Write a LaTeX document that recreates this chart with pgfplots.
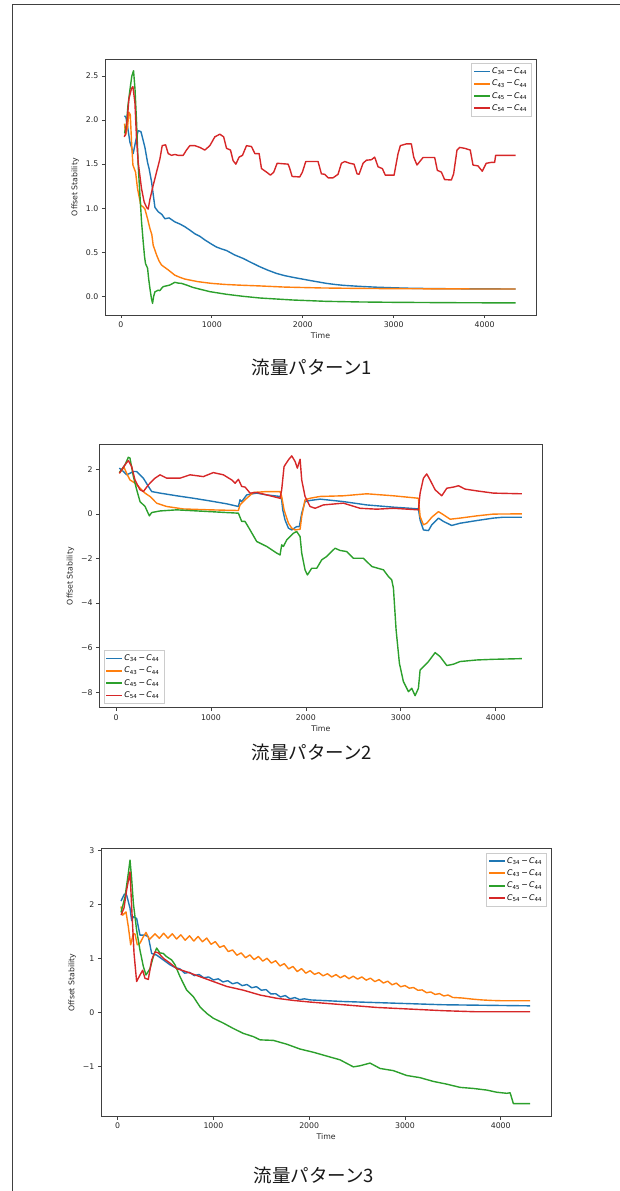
\documentclass[border=0pt]{standalone}
\usepackage{fontspec}
\setmainfont{DejaVu Sans}
\newfontfamily\cjk{Noto Sans CJK JP}
\usepackage{pgfplots}
\pgfplotsset{compat=1.18}
\definecolor{c1}{HTML}{1F77B4}
\definecolor{c2}{HTML}{FF7F0E}
\definecolor{c3}{HTML}{2CA02C}
\definecolor{c4}{HTML}{D62728}
\newcommand{\lab}[1]{\textit{C}\textsubscript{#1}\,−\,\textit{C}\textsubscript{44}}
\pgfplotsset{myax/.style={scale only axis,
  axis line style={black!75, line width=0.7pt},
  tick align=outside, xtick pos=left, ytick pos=left,
  major tick length=3.2pt, tick style={black!75, line width=0.7pt},
  ticklabel style={font=\fontsize{7.8}{9}\selectfont, text=black!85},
  label style={font=\fontsize{7.8}{9}\selectfont, text=black!85},
  xlabel=Time, ylabel=Offset Stability,
  xlabel style={yshift=2pt},
  legend style={font=\fontsize{7.8}{9}\selectfont, draw=black!20, row sep=1pt, inner sep=2.5pt},
  legend cell align=left,
  legend image code/.code={\fill[#1, draw=none] (0pt,-0.9pt) rectangle (16pt,0.9pt);},
  every axis plot/.append style={line width=1.4pt, line join=round},
  xtick={0,1000,2000,3000,4000}, xticklabels={0,1000,2000,3000,4000},
}}
\begin{document}
\begin{tikzpicture}
\path[use as bounding box] (0,0) rectangle (619pt,-1191pt);
\draw[black!75, line width=0.9pt] (12.8pt,-1192pt) -- (12.8pt,-4.5pt) -- (620pt,-4.5pt);

% ---------- Plot 1 ----------
\begin{axis}[myax, at={(105pt,-315pt)}, anchor=south west, width=431pt, height=255.7pt,
  xmin=-175, xmax=4565, ymin=-0.212, ymax=2.69,
  ytick={0,0.5,1,1.5,2,2.5}, yticklabels={0.0,0.5,1.0,1.5,2.0,2.5},
  legend style={at={(0.99,0.985)}, anchor=north east}]
\addplot[c1] coordinates {(40,2.05)(55,2.03)(70,1.95)(99,1.75)(120,1.68)(135,1.62)(160,1.75)(190,1.88)(220,1.87)(264,1.69)(293,1.52)(310,1.45)(337,1.30)(374,1.01)(410,0.96)(450,0.93)(484,0.88)(530,0.89)(593,0.845)(650,0.82)(703,0.79)(760,0.75)(813,0.71)(870,0.68)(923,0.64)(1000,0.59)(1050,0.56)(1100,0.54)(1161,0.52)(1250,0.47)(1344,0.43)(1430,0.385)(1527,0.336)(1620,0.295)(1711,0.26)(1800,0.235)(1894,0.215)(2000,0.195)(2077,0.18)(2160,0.165)(2260,0.147)(2350,0.135)(2443,0.125)(2626,0.113)(2800,0.104)(2993,0.097)(3200,0.091)(3500,0.087)(3800,0.085)(4100,0.084)(4341,0.083)};
\addlegendentry{\lab{34}}
\addplot[c2] coordinates {(40,1.96)(51,1.83)(73,1.92)(88,2.09)(103,2.06)(117,1.75)(132,1.49)(161,1.41)(183,1.22)(220,1.03)(240,1.02)(264,0.99)(293,0.88)(319,0.77)(340,0.70)(355,0.58)(392,0.47)(420,0.40)(447,0.355)(520,0.30)(593,0.24)(650,0.215)(703,0.196)(780,0.18)(850,0.166)(996,0.147)(1143,0.135)(1300,0.127)(1527,0.118)(1800,0.105)(2200,0.095)(2600,0.09)(3000,0.087)(3600,0.084)(4341,0.083)};
\addlegendentry{\lab{43}}
\addplot[c3] coordinates {(40,1.85)(60,1.95)(77,2.16)(100,2.35)(120,2.50)(139,2.56)(155,2.35)(172,1.98)(190,1.49)(209,1.15)(227,0.845)(245,0.62)(260,0.45)(271,0.37)(293,0.32)(305,0.2)(319,0.09)(335,-0.02)(348,-0.08)(360,0.0)(374,0.05)(410,0.07)(428,0.064)(447,0.09)(465,0.11)(538,0.128)(593,0.159)(630,0.15)(667,0.147)(730,0.125)(795,0.10)(880,0.078)(978,0.053)(1161,0.023)(1344,0.0)(1527,-0.019)(1894,-0.042)(2260,-0.057)(2626,-0.064)(2993,-0.068)(3600,-0.072)(4341,-0.075)};
\addlegendentry{\lab{45}}
\addplot[c4] coordinates {(36,1.81)(51,1.84)(73,2.05)(88,2.24)(117,2.36)(132,2.38)(154,2.20)(172,1.79)(190,1.52)(227,1.22)(256,1.07)(282,1.01)(300,0.99)(319,1.10)(355,1.26)(392,1.41)(429,1.56)(454,1.71)(491,1.72)(520,1.62)(557,1.60)(593,1.61)(630,1.60)(685,1.60)(721,1.66)(758,1.71)(813,1.71)(868,1.69)(923,1.66)(978,1.71)(1033,1.81)(1088,1.84)(1130,1.81)(1161,1.68)(1205,1.66)(1234,1.54)(1264,1.50)(1300,1.58)(1337,1.60)(1381,1.71)(1436,1.70)(1473,1.62)(1520,1.62)(1546,1.45)(1601,1.41)(1645,1.375)(1681,1.41)(1718,1.51)(1839,1.50)(1857,1.45)(1883,1.36)(1967,1.355)(1996,1.41)(2033,1.53)(2168,1.53)(2205,1.39)(2242,1.385)(2278,1.345)(2333,1.345)(2388,1.385)(2425,1.51)(2462,1.53)(2516,1.51)(2564,1.50)(2597,1.39)(2619,1.385)(2663,1.51)(2700,1.545)(2755,1.55)(2791,1.58)(2828,1.47)(2875,1.45)(2908,1.375)(3004,1.375)(3048,1.62)(3073,1.71)(3139,1.73)(3194,1.73)(3220,1.58)(3256,1.49)(3322,1.575)(3451,1.575)(3480,1.43)(3524,1.41)(3560,1.325)(3634,1.32)(3659,1.39)(3696,1.66)(3725,1.69)(3780,1.68)(3842,1.66)(3872,1.49)(3927,1.48)(3974,1.42)(4018,1.51)(4073,1.52)(4110,1.52)(4121,1.60)(4341,1.60)};
\addlegendentry{\lab{54}}
\end{axis}
\node[font=\cjk\fontsize{18.5}{21}\selectfont, text=black!90] at (311.7pt,-367.5pt) {流量パターン1};

% ---------- Plot 2 ----------
\begin{axis}[myax, at={(99.3pt,-707.7pt)}, anchor=south west, width=443pt, height=263pt,
  xmin=-176, xmax=4490, ymin=-8.69, ymax=3.10,
  ytick={-8,-6,-4,-2,0,2}, yticklabels={−8,−6,−4,−2,0,2},
  legend style={at={(0.01,0.015)}, anchor=south west}]
\addplot[c1] coordinates {(35,2.05)(77,1.9)(112,1.75)(147,1.82)(183,1.9)(218,1.9)(253,1.75)(288,1.6)(341,1.23)(376,1.0)(464,0.93)(639,0.81)(815,0.70)(990,0.58)(1166,0.45)(1289,0.33)(1306,0.63)(1324,0.55)(1377,0.85)(1412,0.88)(1482,0.93)(1587,0.85)(1728,0.78)(1745,0.63)(1756,0.18)(1780,-0.27)(1816,-0.64)(1851,-0.72)(1903,-0.57)(1931,-0.57)(1956,0.03)(1991,0.55)(2044,0.6)(2149,0.66)(2395,0.55)(2641,0.40)(2922,0.30)(3097,0.25)(3185,0.22)(3203,-0.27)(3238,-0.72)(3291,-0.75)(3326,-0.49)(3396,-0.19)(3449,-0.34)(3536,-0.52)(3624,-0.42)(3800,-0.30)(3975,-0.19)(4081,-0.15)(4274,-0.15)};
\addlegendentry{\lab{34}}
\addplot[c2] coordinates {(35,1.82)(84,2.09)(112,1.82)(147,1.52)(200,1.38)(253,1.15)(306,0.93)(358,0.78)(428,0.48)(534,0.33)(709,0.22)(990,0.18)(1289,0.15)(1306,0.40)(1377,0.70)(1447,0.96)(1587,1.0)(1728,1.0)(1745,0.78)(1770,0.18)(1816,-0.42)(1851,-0.64)(1886,-0.72)(1939,-0.69)(1956,-0.12)(1991,0.63)(2044,0.70)(2149,0.78)(2395,0.81)(2641,0.90)(2922,0.81)(3185,0.70)(3203,-0.12)(3238,-0.49)(3273,-0.42)(3326,-0.15)(3396,0.10)(3449,-0.04)(3519,-0.24)(3624,-0.19)(3800,-0.09)(3975,-0.01)(4274,0.0)};
\addlegendentry{\lab{43}}
\addplot[c3] coordinates {(35,1.85)(95,2.2)(130,2.54)(147,2.5)(183,1.67)(218,1.08)(253,0.55)(306,0.33)(351,-0.09)(376,0.06)(464,0.13)(639,0.18)(990,0.1)(1289,0.03)(1324,-0.34)(1359,-0.34)(1412,-0.72)(1482,-1.24)(1587,-1.46)(1693,-1.76)(1728,-1.84)(1745,-1.39)(1763,-1.46)(1798,-1.17)(1868,-0.87)(1903,-0.79)(1939,-1.02)(1956,-1.76)(1991,-2.51)(2016,-2.74)(2061,-2.44)(2114,-2.44)(2167,-2.06)(2219,-1.91)(2307,-1.54)(2360,-1.64)(2430,-1.69)(2500,-1.99)(2606,-1.99)(2694,-2.36)(2817,-2.51)(2869,-2.81)(2904,-2.96)(2922,-3.33)(2950,-5.2)(2985,-6.70)(3027,-7.52)(3080,-7.97)(3115,-7.82)(3150,-8.15)(3185,-7.82)(3203,-7.0)(3238,-6.85)(3291,-6.62)(3361,-6.22)(3414,-6.40)(3484,-6.80)(3554,-6.74)(3624,-6.62)(3800,-6.55)(3975,-6.52)(4274,-6.49)};
\addlegendentry{\lab{45}}
\addplot[c4] coordinates {(35,1.82)(95,2.2)(130,2.39)(165,2.12)(200,1.52)(253,1.08)(288,1.0)(341,1.30)(411,1.6)(464,1.75)(534,1.6)(674,1.6)(780,1.75)(920,1.67)(1025,1.85)(1131,1.75)(1219,1.52)(1254,1.37)(1289,1.55)(1324,1.23)(1359,1.2)(1412,0.93)(1482,0.96)(1587,0.85)(1728,0.70)(1745,1.08)(1770,2.12)(1816,2.42)(1851,2.6)(1886,2.35)(1910,2.05)(1939,2.45)(1956,1.52)(1991,0.78)(2044,0.33)(2097,0.25)(2184,0.40)(2395,0.48)(2571,0.25)(2746,0.21)(2922,0.25)(3185,0.18)(3203,0.93)(3238,1.6)(3273,1.79)(3308,1.52)(3361,1.08)(3431,0.81)(3484,1.15)(3554,1.2)(3607,1.26)(3677,1.11)(3800,1.03)(3975,0.93)(4274,0.90)};
\addlegendentry{\lab{54}}
\end{axis}
\node[font=\cjk\fontsize{18.5}{21}\selectfont, text=black!90] at (312pt,-752pt) {流量パターン2};

% ---------- Plot 3 ----------
\begin{axis}[myax, at={(101pt,-1116.3pt)}, anchor=south west, width=450.3pt, height=267.6pt,
  xmin=-174, xmax=4528, ymin=-1.926, ymax=3.03,
  ytick={-1,0,1,2,3}, yticklabels={−1,0,1,2,3},
  legend style={at={(0.99,0.985)}, anchor=north east}]
\addplot[c1] coordinates {(35,2.06)(70,2.19)(94,2.17)(129,1.93)(146,1.70)(164,1.77)(198,1.74)(233,1.43)(285,1.43)(320,1.40)(355,1.09)(407,1.06)(477,0.97)(547,0.88)(600,0.83)(650,0.805)(700,0.725)(750,0.74)(800,0.68)(850,0.70)(900,0.64)(950,0.655)(1000,0.60)(1050,0.62)(1100,0.563)(1150,0.586)(1200,0.528)(1250,0.552)(1300,0.494)(1350,0.515)(1400,0.455)(1450,0.475)(1500,0.41)(1550,0.42)(1600,0.34)(1650,0.345)(1700,0.285)(1750,0.31)(1800,0.25)(1850,0.273)(1900,0.235)(1950,0.25)(2009,0.23)(2357,0.20)(2879,0.17)(3401,0.14)(4306,0.12)};
\addlegendentry{\lab{34}}
\addplot[c2] coordinates {(35,1.96)(52,1.80)(87,1.86)(111,1.59)(136,1.25)(164,1.46)(181,1.45)(205,1.25)(233,1.28)(268,1.40)(296,1.48)(331,1.35)(390,1.455)(435,1.37)(480,1.465)(525,1.373)(570,1.455)(615,1.358)(660,1.435)(705,1.335)(750,1.418)(795,1.32)(840,1.405)(885,1.307)(930,1.375)(975,1.26)(1020,1.309)(1065,1.203)(1110,1.235)(1155,1.125)(1200,1.155)(1245,1.058)(1290,1.101)(1335,1.011)(1380,1.063)(1425,0.977)(1470,1.034)(1515,0.949)(1560,1.001)(1605,0.912)(1650,0.955)(1695,0.858)(1740,0.901)(1785,0.804)(1830,0.85)(1875,0.755)(1920,0.809)(1965,0.725)(2010,0.771)(2055,0.703)(2100,0.735)(2145,0.675)(2190,0.715)(2235,0.655)(2280,0.699)(2325,0.64)(2370,0.681)(2415,0.623)(2460,0.669)(2505,0.615)(2550,0.655)(2595,0.596)(2640,0.633)(2685,0.569)(2730,0.606)(2775,0.542)(2820,0.577)(2865,0.509)(2910,0.541)(2955,0.473)(3000,0.495)(3045,0.447)(3090,0.459)(3135,0.408)(3180,0.415)(3225,0.363)(3270,0.377)(3315,0.33)(3360,0.347)(3405,0.303)(3450,0.32)(3500,0.275)(3600,0.265)(3700,0.245)(3800,0.23)(3900,0.22)(4000,0.215)(4306,0.215)};
\addlegendentry{\lab{43}}
\addplot[c3] coordinates {(35,1.85)(77,2.14)(111,2.57)(129,2.82)(145,2.5)(164,2.02)(198,1.52)(233,1.15)(268,0.85)(296,0.69)(338,0.81)(372,1.03)(407,1.19)(442,1.10)(477,1.09)(512,1.03)(564,0.97)(599,0.88)(651,0.66)(721,0.41)(790,0.29)(860,0.10)(930,-0.02)(999,-0.11)(1104,-0.20)(1208,-0.30)(1312,-0.39)(1417,-0.45)(1487,-0.51)(1626,-0.52)(1765,-0.59)(1904,-0.68)(2044,-0.74)(2183,-0.81)(2322,-0.88)(2461,-1.01)(2531,-0.99)(2635,-0.94)(2740,-1.04)(2879,-1.08)(3018,-1.17)(3157,-1.21)(3297,-1.28)(3436,-1.33)(3575,-1.39)(3714,-1.41)(3854,-1.44)(3958,-1.48)(4063,-1.50)(4098,-1.49)(4132,-1.69)(4306,-1.69)};
\addlegendentry{\lab{45}}
\addplot[c4] coordinates {(35,1.80)(66,1.93)(94,2.27)(129,2.60)(146,1.96)(171,1.09)(198,0.57)(233,0.69)(261,0.78)(285,0.63)(320,0.61)(355,0.97)(390,1.12)(425,1.10)(477,1.0)(547,0.91)(616,0.81)(721,0.75)(860,0.66)(999,0.57)(1138,0.48)(1312,0.41)(1487,0.32)(1661,0.26)(1835,0.22)(2009,0.19)(2357,0.14)(2705,0.09)(3053,0.06)(3401,0.03)(3749,0.01)(4306,0.01)};
\addlegendentry{\lab{54}}
\end{axis}
\node[font=\cjk\fontsize{18.5}{21}\selectfont, text=black!90] at (314pt,-1175pt) {流量パターン3};
\end{tikzpicture}
\end{document}
